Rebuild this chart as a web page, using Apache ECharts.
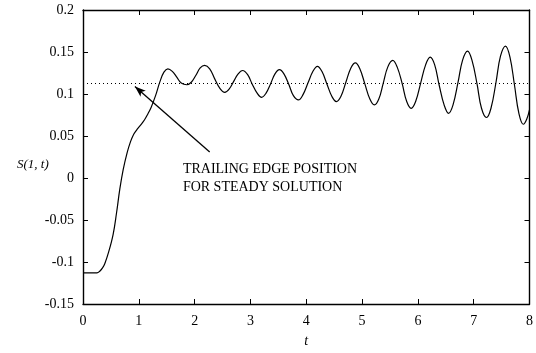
<!DOCTYPE html>
<html>
<head>
<meta charset="utf-8">
<script src="https://cdn.jsdelivr.net/npm/echarts@6/dist/echarts.min.js"></script>
<style>
  html, body { margin: 0; padding: 0; background: #fff; }
  #chart { width: 536px; height: 353px; }
</style>
</head>
<body>
<div id="chart"></div>
<script>
// Time samples t and trailing-edge position S(1, t)
const tValues = [
  0, 0.1, 0.2, 0.25, 0.3, 0.35, 0.39, 0.46, 0.54, 0.6, 0.66, 0.72, 0.79, 0.85, 0.9, 0.96,
  1.02, 1.1, 1.16, 1.22, 1.3, 1.38, 1.45, 1.52, 1.6, 1.68, 1.76, 1.86,
  1.94, 2.02, 2.10, 2.18, 2.27, 2.36, 2.45, 2.54, 2.62, 2.70, 2.78, 2.86,
  2.95, 3.03, 3.12, 3.20, 3.28, 3.36, 3.44, 3.52, 3.60, 3.69, 3.77, 3.86,
  3.94, 4.03, 4.12, 4.20, 4.28, 4.37, 4.46, 4.54, 4.62, 4.71, 4.80, 4.88,
  4.96, 5.05, 5.14, 5.22, 5.30, 5.38, 5.46, 5.55, 5.63, 5.72, 5.80, 5.88,
  5.96, 6.05, 6.14, 6.22, 6.30, 6.38, 6.47, 6.55, 6.63, 6.72, 6.80, 6.89,
  6.97, 7.06, 7.14, 7.23, 7.31, 7.40, 7.48, 7.57, 7.65, 7.73, 7.81, 7.89, 7.95, 8.0
];
const sValues = [
  -0.113, -0.113, -0.113, -0.113, -0.111, -0.107, -0.102, -0.088, -0.067, -0.042, -0.013, 0.01, 0.030, 0.043, 0.051, 0.057,
  0.062, 0.069, 0.076, 0.084, 0.098, 0.115, 0.126, 0.130, 0.127, 0.12, 0.113, 0.111,
  0.114, 0.122, 0.131, 0.134, 0.130, 0.118, 0.107, 0.102, 0.106, 0.115, 0.124, 0.128,
  0.123, 0.112, 0.101, 0.096, 0.101, 0.112, 0.124, 0.129, 0.124, 0.111, 0.098, 0.093,
  0.099, 0.113, 0.127, 0.133, 0.127, 0.112, 0.097, 0.091, 0.097, 0.114, 0.131, 0.137,
  0.130, 0.112, 0.094, 0.087, 0.094, 0.113, 0.132, 0.140, 0.132, 0.112, 0.091, 0.083,
  0.091, 0.113, 0.135, 0.144, 0.135, 0.111, 0.087, 0.077, 0.087, 0.114, 0.140, 0.151,
  0.140, 0.112, 0.083, 0.072, 0.083, 0.114, 0.145, 0.157, 0.144, 0.111, 0.077, 0.064, 0.070, 0.081
];
// Steady-state trailing edge position
const steadyValue = 0.113;
// Annotation arrow: tail and tip in (t, S)
const arrowTail = [2.27, 0.031];
const arrowTip = [0.93, 0.109];
const noteLines = ['TRAILING EDGE POSITION', 'FOR STEADY SOLUTION'];

const serif = '"Liberation Serif", "DejaVu Serif", serif';
const chart = echarts.init(document.getElementById('chart'), null, { renderer: 'canvas' });

const axisCommon = {
  axisLine: { show: true, onZero: false, lineStyle: { color: '#000', width: 1.4 } },
  axisTick: { show: true, inside: true, length: 5, lineStyle: { color: '#000', width: 1 } },
  splitLine: { show: false }
};

chart.setOption({
  animation: false,
  backgroundColor: '#fff',
  grid: { left: 83, right: 6, top: 10, bottom: 41 },
  xAxis: [
    Object.assign({
      type: 'value', min: 0, max: 8, interval: 1, position: 'bottom',
      name: 't', nameLocation: 'middle', nameGap: 30,
      nameTextStyle: { fontFamily: serif, fontStyle: 'italic', fontSize: 14, color: '#000' },
      axisLabel: { fontFamily: serif, fontSize: 14, color: '#000', margin: 10 }
    }, axisCommon),
    Object.assign({
      type: 'value', min: 0, max: 8, interval: 1, position: 'top',
      axisLabel: { show: false }
    }, axisCommon)
  ],
  yAxis: [
    Object.assign({
      type: 'value', min: -0.15, max: 0.2, interval: 0.05, position: 'left',
      axisLabel: { fontFamily: serif, fontSize: 14, color: '#000', margin: 9 }
    }, axisCommon),
    Object.assign({
      type: 'value', min: -0.15, max: 0.2, interval: 0.05, position: 'right',
      axisLabel: { show: false }
    }, axisCommon)
  ],
  graphic: [{
    type: 'text', left: 17, top: 158,
    style: { text: 'S(1, t)', font: 'italic 13px ' + serif, fill: '#000' }
  }],
  series: [{
    type: 'line',
    data: tValues.map((t, i) => [t, sValues[i]]),
    showSymbol: false,
    smooth: 0.4,
    lineStyle: { color: '#000', width: 1.2 },
    markLine: {
      silent: true,
      animation: false,
      data: [
        [{ coord: [0, steadyValue], symbol: 'none' }, { coord: [8, steadyValue], symbol: 'none' }],
        [
          { coord: arrowTail, symbol: 'none', lineStyle: { type: 'solid', width: 1.3, color: '#000' } },
          { coord: arrowTip, symbol: 'arrow', symbolSize: [6, 11] }
        ]
      ],
      label: { show: false },
      lineStyle: { type: [1, 3], color: '#000', width: 1.2 }
    },
    markPoint: {
      silent: true,
      symbol: 'circle', symbolSize: 0,
      data: [{
        coord: [1.7, 0.0],
        label: {
          show: true, position: 'right', offset: [0, 0],
          formatter: noteLines.join('\n'),
          fontFamily: serif, fontSize: 14, color: '#000', lineHeight: 18, align: 'left'
        }
      }]
    }
  }]
});
</script>
</body>
</html>
